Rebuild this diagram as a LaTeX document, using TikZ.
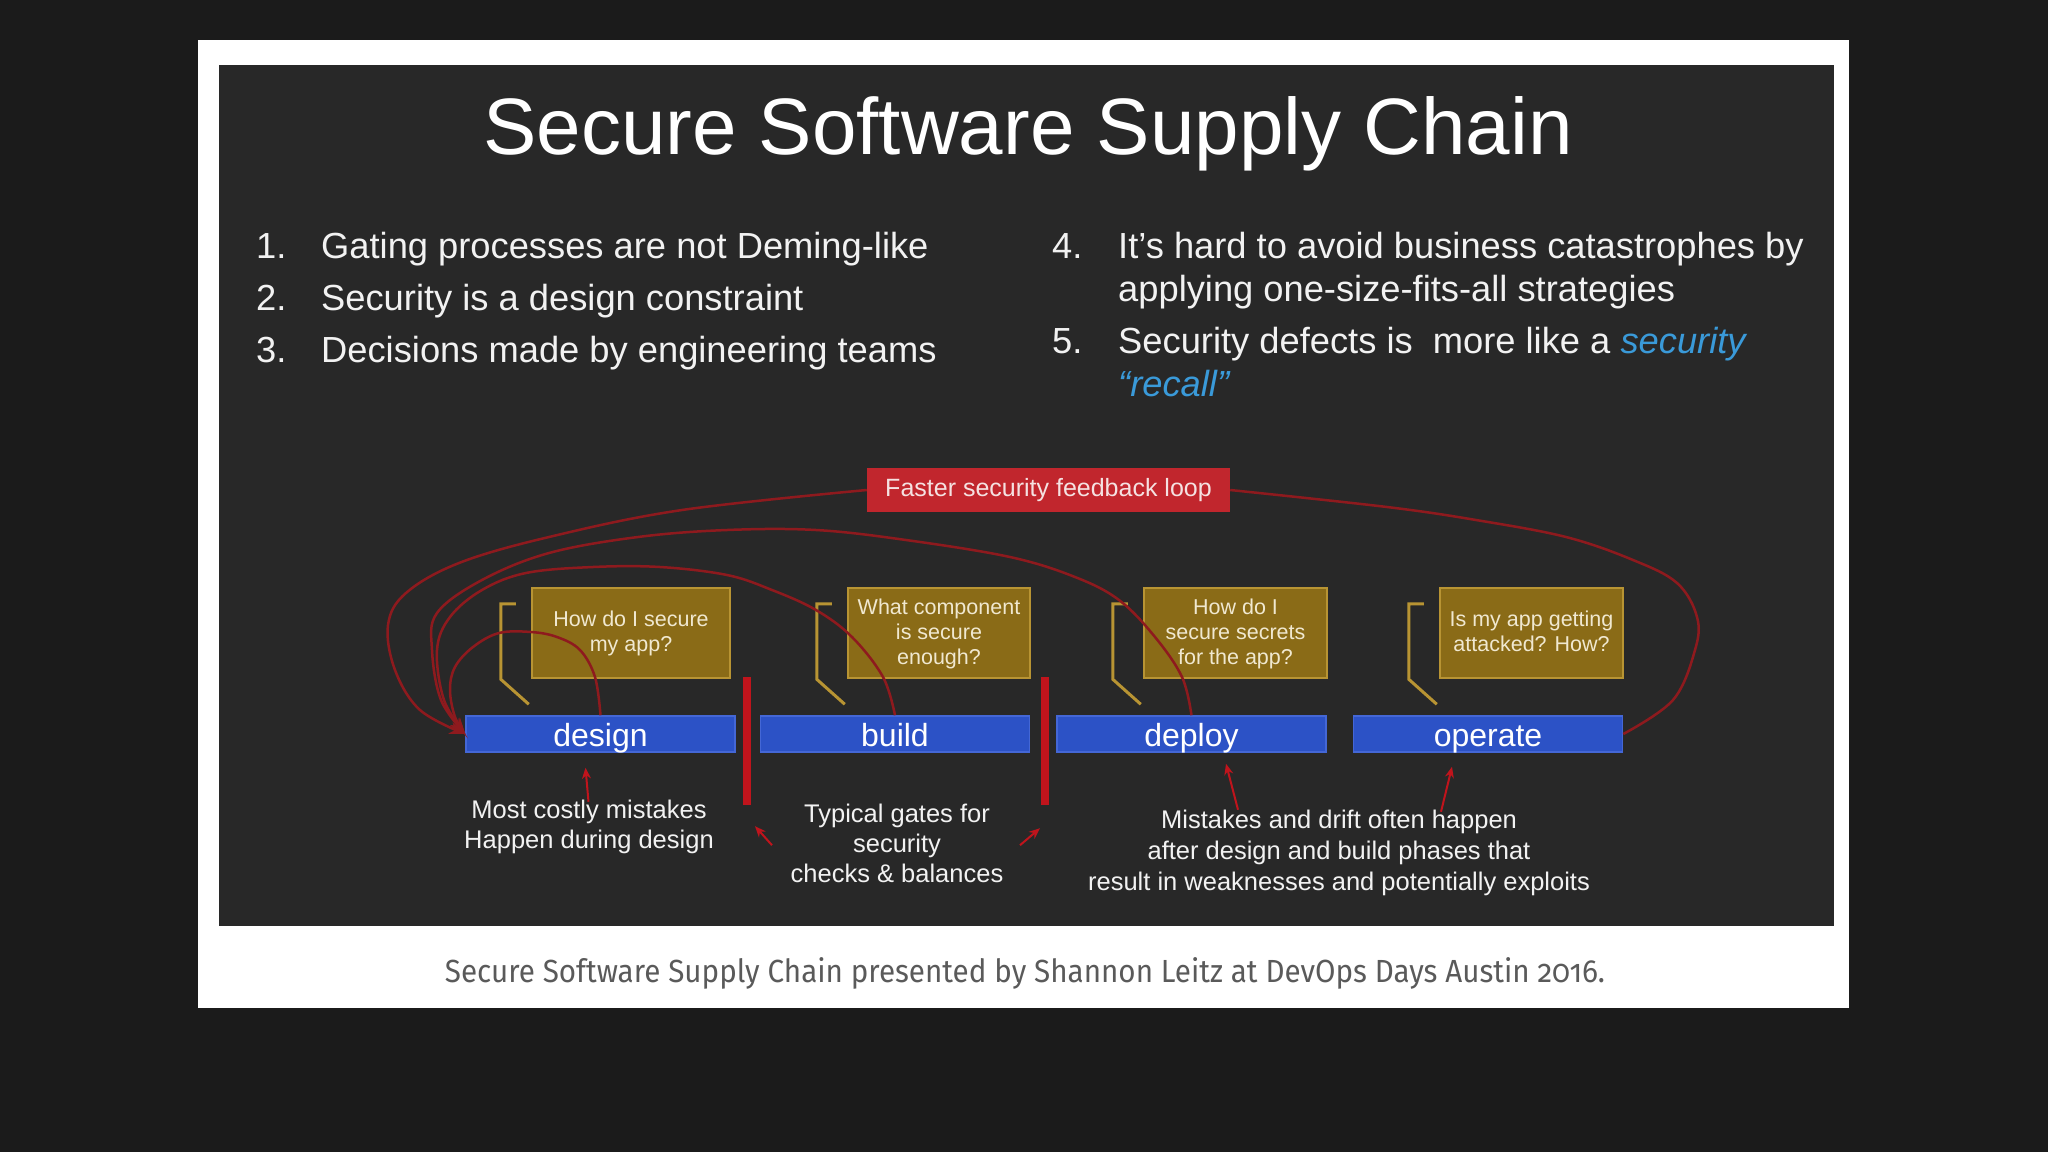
\documentclass[tikz,border=0pt]{standalone}
\usepackage{fontspec}
\setmainfont{Liberation Sans}
\newfontfamily\capfont[Numbers=OldStyle]{Fira Sans}
\usetikzlibrary{arrows.meta,calc}
\definecolor{pagebg}{HTML}{1B1B1B}
\definecolor{slidebg}{HTML}{282828}
\definecolor{txt}{HTML}{F2F2F2}
\definecolor{linkblue}{HTML}{3A9AD9}
\definecolor{fbred}{HTML}{C1262D}
\definecolor{fbtext}{HTML}{F5E1E1}
\definecolor{goldfill}{HTML}{8A6B17}
\definecolor{golddraw}{HTML}{B89433}
\definecolor{goldtext}{HTML}{F0E8D0}
\definecolor{barblue}{HTML}{2C52C6}
\definecolor{barborder}{HTML}{4467D6}
\definecolor{gatered}{HTML}{C0141C}
\definecolor{loopred}{HTML}{8E1A1E}
\definecolor{captiongrey}{HTML}{5A5A5A}
\begin{document}
\begin{tikzpicture}[x=1pt,y=-1pt,
  listtxt/.style={anchor=base west, inner sep=0pt, text=txt, font=\fontsize{36.3}{43}\selectfont},
  qbox/.style={fill=goldfill, draw=golddraw, line width=2.5pt, text=goldtext, align=center,
     font=\fontsize{21.5}{25}\selectfont, minimum height=90pt, inner sep=0pt, text depth=3pt},
  phase/.style={fill=barblue, draw=barborder, line width=1.5pt, text=white,
     font=\fontsize{32}{36}\selectfont, minimum width=269pt, minimum height=34pt, inner sep=0pt,
     text height=30pt, text depth=6pt},
  gatebar/.style={fill=gatered, draw=none, minimum width=8pt, minimum height=128pt, inner sep=0pt},
  bracketline/.style={draw=golddraw, line width=3pt},
  fbcurve/.style={draw=loopred, line width=2.5pt},
  fbarrow/.style={-{Stealth[length=16pt,width=12pt]}},
  smallarr/.style={draw=gatered, line width=2pt, -{Stealth[length=11pt,width=9pt]}},
  bottomtxt/.style={text=txt, align=center, inner sep=0pt}
]
\fill[pagebg] (0,0) rectangle (2048,1152);
\useasboundingbox (0,0) rectangle (2048,1152);
\fill[white] (198,40) rectangle (1849,1008);
\fill[slidebg] (219,65) rectangle (1834,926);

% title
\node[anchor=base, inner sep=0pt, text=white, font=\fontsize{80}{96}\selectfont] (title) at (1028,154) {Secure Software Supply Chain};

% left list
\node[listtxt] (n1) at (256,258) {1.};
\node[listtxt] (t1) at (321,258) {Gating processes are not Deming-like};
\node[listtxt] (n2) at (256,310) {2.};
\node[listtxt] (t2) at (321,310) {Security is a design constraint};
\node[listtxt] (n3) at (256,362) {3.};
\node[listtxt] (t3) at (321,362) {Decisions made by engineering teams};
% right list
\node[listtxt] (n4) at (1052,258) {4.};
\node[listtxt] (t4a) at (1118,258) {It’s hard to avoid business catastrophes by};
\node[listtxt] (t4b) at (1118,301) {applying one-size-fits-all strategies};
\node[listtxt] (n5) at (1052,353) {5.};
\node[listtxt] (t5a) at (1118,353) {Security defects is\ \ more like a \textcolor{linkblue}{\itshape security}};
\node[listtxt] (t5b) at (1118,396) {\textcolor{linkblue}{\itshape “recall”}};

% feedback label
\node[fill=fbred, text=fbtext, font=\fontsize{25}{30}\selectfont, minimum width=363pt, minimum height=44pt, inner sep=0pt] (fb) at (1048.5,490) {Faster security feedback loop};

% question boxes
\node[qbox, minimum width=198pt] (q1) at (631,633) {How do I secure\\my app?};
\node[qbox, minimum width=182pt] (q2) at (939,633) {What component\\is secure\\enough?};
\node[qbox, minimum width=183pt] (q3) at (1235.5,633) {How do I\\secure secrets\\for the app?};
\node[qbox, minimum width=183pt] (q4) at (1531.5,633) {Is my app getting\\attacked? How?};
\foreach \q in {q1,q2,q3,q4}
  \draw[bracketline] ($(\q.north west)+(-15,17)$) -- ($(\q.north west)+(-30,17)$) -- ($(\q.south west)+(-30,0)$) -- ($(\q.south west)+(-2,25)$);

% phase bars
\node[phase] (design) at (600.5,734) {design};
\node[phase] (build) at (895,734) {build};
\node[phase] (deploy) at (1191.5,734) {deploy};
\node[phase] (operate) at (1488,734) {operate};

% gates
\node[gatebar] (g1) at (747,741) {};
\node[gatebar] (g2) at (1045,741) {};

% feedback curves
\draw[fbcurve,fbarrow] plot[smooth, tension=0.6] coordinates {(fb.west) (682,510) (549,537) (459,563) (406,593) (388,625) (395,670) (420,710) (design.west)};
\draw[fbcurve] plot[smooth, tension=0.6] coordinates {(fb.east) (1387,507) (1476,520) (1566,537) (1633,560) (1677,583) (1697,617) (1695,650) (1673,700) (operate.east)};
\draw[fbcurve,fbarrow] plot[smooth, tension=0.6] coordinates {(deploy.north) (1182,677) (1155,637) (1119,600) (1075,577) (1010,557) (906,540) (816,530) (727,530) (638,537) (549,553) (482,580) (437,613) (432,650) (441,700) (design.west)};
\draw[fbcurve,fbarrow] plot[smooth, tension=0.6] coordinates {(build.north) (883,677) (852,637) (816,610) (772,590) (727,575) (660,567) (593,567) (526,573) (482,590) (450,617) (437,650) (444,700) (design.west)};
\draw[fbcurve,fbarrow] plot[smooth, tension=0.6] coordinates {(design.north) (595,677) (580,650) (557,637) (531,632) (499,633) (473,647) (455,667) (450,690) (455,717) (design.west)};

% bottom texts
\node[bottomtxt, font=\fontsize{25.5}{30.5}\selectfont] (costly) at (589,827) {Most costly mistakes\\Happen during design};
\node[bottomtxt, font=\fontsize{25.5}{30}\selectfont] (gatestxt) at (897,843.5) {Typical gates for\\security\\checks \& balances};
\node[bottomtxt, font=\fontsize{25.5}{31}\selectfont] (drift) at (1339,852.5) {Mistakes and drift often happen\\after design and build phases that\\result in weaknesses and potentially exploits};

% small arrows
\draw[smallarr] ($(design.south)+(-12,49)$) -- ($(design.south)+(-15,15)$);
\draw[smallarr] ($(g1.south)+(25,40)$) -- ($(g1.south)+(8,21)$);
\draw[smallarr] ($(g2.south)+(-25,40)$) -- ($(g2.south)+(-5,23)$);
\draw[smallarr] ($(deploy.south)+(46.5,57)$) -- ($(deploy.south)+(34.5,11)$);
\draw[smallarr] ($(operate.south)+(-47,59)$) -- ($(operate.south)+(-36,14)$);

% caption
\node[anchor=base, inner sep=0pt, text=captiongrey, font=\capfont\fontsize{32}{38}\selectfont] (cap) at (1025,982) {\resizebox{1160pt}{\height}{Secure Software Supply Chain presented by Shannon Leitz at DevOps Days Austin 2016.}};
\end{tikzpicture}
\end{document}
